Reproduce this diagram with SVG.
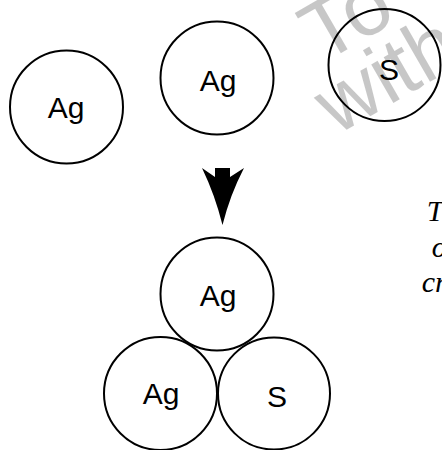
<svg xmlns="http://www.w3.org/2000/svg" width="442" height="450" viewBox="0 0 442 450">
<style>
.atom{fill:#fff;stroke:#000;stroke-width:2}
.lbl{font-family:"Liberation Sans",Arial,sans-serif;font-size:30px;fill:#000;text-anchor:middle}
.side{font-family:"Liberation Serif","Times New Roman",serif;font-style:italic;font-size:30px;fill:#000}
.wm{font-family:"Liberation Sans",Arial,sans-serif;font-size:84px;fill:#000;fill-opacity:0.22}
</style>
<rect width="442" height="450" fill="#fff"/>
<g id="ag1"><circle class="atom" cx="66.5" cy="107" r="56.5"/><text class="lbl" x="66" y="118">Ag</text></g>
<g id="ag2"><circle class="atom" cx="217" cy="78" r="56.5"/><text class="lbl" x="218" y="90.5">Ag</text></g>
<g id="s1"><circle class="atom" cx="384.5" cy="65" r="56"/><text class="lbl" x="389" y="80">S</text></g>
<g id="connectors">
<path d="M215,168 L230,168 L230,177 L244,168 Q230,195 222.5,225 Q215,195 202,168 L215,177 Z" fill="#000"/>
</g>
<g id="ag3"><circle class="atom" cx="217" cy="294" r="56.5"/><text class="lbl" x="218" y="306">Ag</text></g>
<g id="ag4"><circle class="atom" cx="160.5" cy="393.5" r="56.5"/><text class="lbl" x="161" y="404">Ag</text></g>
<g id="s2"><circle class="atom" cx="274" cy="393.5" r="56"/><text class="lbl" x="277" y="407">S</text></g>
<g id="caption">
<text class="side" x="426.7" y="221">T</text>
<text class="side" x="431.7" y="257">o</text>
<text class="side" x="421.7" y="292">cr</text>
</g>
<g id="watermark">
<text class="wm" x="322" y="64" transform="rotate(-30 322 64)">To</text>
<text class="wm" x="336" y="136" transform="rotate(-30 336 136)">with</text>
</g>
</svg>
